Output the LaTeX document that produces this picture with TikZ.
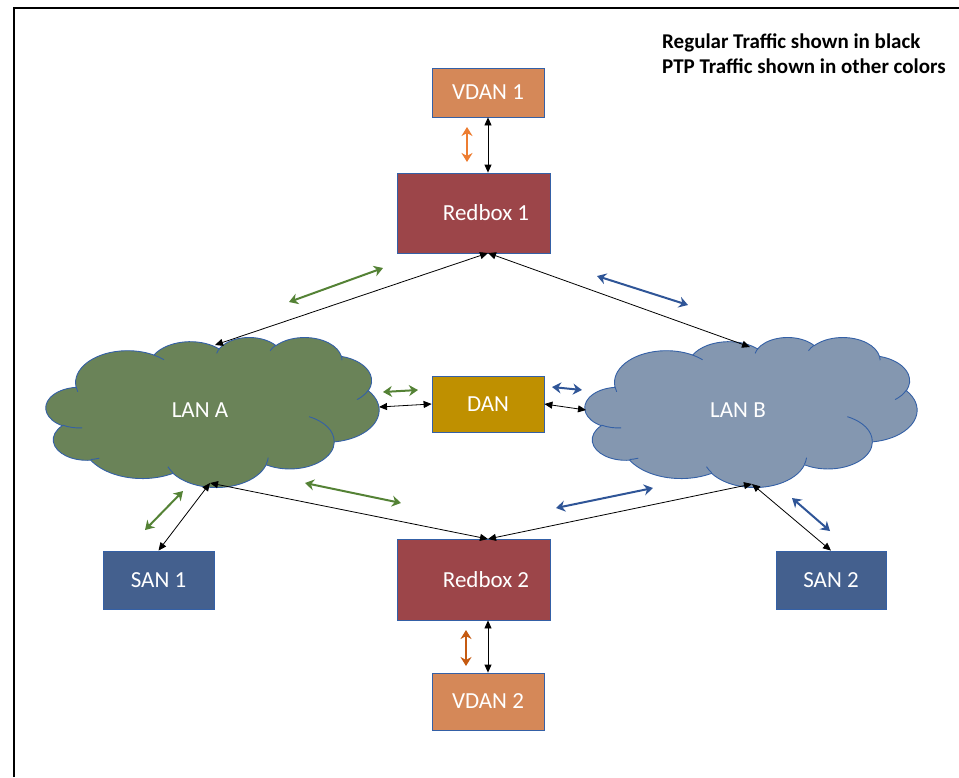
\documentclass[tikz,border=0pt]{standalone}
\usepackage{fontspec}
\setmainfont{Carlito}
\usetikzlibrary{arrows.meta}
\definecolor{vdanfill}{RGB}{213,136,88}
\definecolor{redfill}{RGB}{156,69,73}
\definecolor{danfill}{RGB}{191,144,0}
\definecolor{lanafill}{RGB}{106,131,88}
\definecolor{lanbfill}{RGB}{132,151,176}
\definecolor{sanfill}{RGB}{68,96,142}
\definecolor{edgeblue}{RGB}{52,96,166}
\definecolor{ptpgreen}{RGB}{84,130,53}
\definecolor{ptpblue}{RGB}{47,85,151}
\definecolor{ptporange}{RGB}{237,125,49}
\definecolor{ptpdorange}{RGB}{197,90,17}
% DrawingML-style elliptic arc: wR hR startAngle sweepAngle (visual angles)
\newcommand\ooarc[4]{arc[start angle={pa(#1,#2,#3)}, end angle={pa(#1,#2,#3+#4)}, x radius=#1, y radius=#2]}
\newcommand\cloudouter{(39,143.70)
 \ooarc{67.53}{91.90}{-190.4875}{123.7805}
 \ooarc{53.33}{72.67}{-144.1024}{89.9452}
 \ooarc{43.65}{59.45}{-145.8079}{99.7230}
 \ooarc{48.57}{65.95}{-130.9861}{117.2417}
 \ooarc{53.33}{72.73}{-78.7089}{109.0269}
 \ooarc{67.75}{92.20}{-46.2673}{130.2690}
 \ooarc{57.85}{78.67}{0.6250}{114.0333}
 \ooarc{67.52}{92.15}{22.4516}{115.1726}
 \ooarc{77.20}{105.43}{66.2426}{75.7110}
 \ooarc{43.60}{59.18}{-274.9421}{146.7356}
 \ooarc{43.45}{59.45}{-246.8285}{152.5189} -- cycle}
\newcommand\cloudinner{
 (46.93,261.77) \ooarc{43.45}{59.45}{86.742}{26.4295}
 (69.28,348.99) \ooarc{43.60}{59.18}{73.6105}{11.4475}
 (164.78,390.90) \ooarc{67.52}{92.15}{137.6242}{14.0811}
 (288.27,347.51) \ooarc{67.52}{92.15}{6.4533}{15.9984}
 (341.29,229.54) \ooarc{57.85}{78.67}{-70.2924}{70.9174}
 (417.98,153.54) \ooarc{53.33}{72.73}{30.3180}{27.7515}
 (383.24,54.26) \ooarc{48.57}{65.95}{-13.7443}{14.8589}
 (290.78,39.52) \ooarc{48.57}{65.95}{-149.1815}{18.1954}
 (221.41,47.20) \ooarc{43.65}{59.45}{-163.4943}{17.6864}
 (140.00,51.92) \ooarc{67.53}{91.90}{-66.7070}{12.3194}
 (41.27,157.89) \ooarc{67.53}{91.90}{157.6544}{11.8582}}
% x y w h fill
\newcommand\lancloud[5]{%
 \begin{scope}[shift={(#1,#2)}, xscale=#3/432, yscale=#4/432]
  \fill[#5] \cloudouter;
  \draw[edgeblue, line width=0.9pt] \cloudouter;
  \draw[edgeblue, line width=0.9pt] \cloudinner;
 \end{scope}}
\begin{document}
\begin{tikzpicture}[x=1pt,y=-1pt,
  declare function={pa(\rw,\rh,\ang)=\ang+atan2(sin(atan2(\rw*sin(\ang),\rh*cos(\ang))-\ang),cos(atan2(\rw*sin(\ang),\rh*cos(\ang))-\ang));},
  box/.style={draw=edgeblue, line width=0.8pt, text=white, inner sep=0pt,
    font=\fontsize{23}{27}\selectfont},
  lantext/.style={text=white, inner sep=0pt, font=\fontsize{23}{27}\selectfont},
  blk/.style={line width=0.8pt, {Triangle[width=7pt,length=8pt]}-{Triangle[width=7pt,length=8pt]}},
  ptp/.style={line width=2pt, {Stealth[width=11pt,length=9pt]}-{Stealth[width=11pt,length=9pt]}},
  legend/.style={font=\bfseries\fontsize{21}{25}\selectfont, align=left, inner sep=0pt}
]
\useasboundingbox (0,0) rectangle (959,777);
% frame
\draw[line width=1.6pt] (14,777) -- (14,8) -- (959,8);

% legend
\node[legend, anchor=base west] (legend) at (662,73)
  {Regular Traffic shown in black\\PTP Traffic shown in other colors};

% clouds
\lancloud{46}{337}{333}{150}{lanafill}
\lancloud{585}{337}{332}{150}{lanbfill}
\node[lantext] (lana) at (200,410) {LAN A};
\node[lantext] (lanb) at (738,410) {LAN B};

% nodes
\node[box, fill=vdanfill, minimum width=112pt, minimum height=49pt] (vdan1) at (488,92.5) {VDAN 1};
\node[box, fill=redfill, minimum width=153pt, minimum height=80pt] (redbox1) at (473.5,213) {};
\node[lantext] (redbox1txt) at (486,213) {Redbox 1};
\node[box, fill=danfill, minimum width=112pt, minimum height=56pt] (dan) at (488,404) {DAN};
\node[box, fill=redfill, minimum width=153pt, minimum height=81pt] (redbox2) at (473.5,579.5) {};
\node[lantext] (redbox2txt) at (486,579.5) {Redbox 2};
\node[box, fill=vdanfill, minimum width=112pt, minimum height=57pt] (vdan2) at (488,701.5) {VDAN 2};
\node[box, fill=sanfill, minimum width=111pt, minimum height=58pt] (san1) at (158.5,580) {SAN 1};
\node[box, fill=sanfill, minimum width=110pt, minimum height=58pt] (san2) at (831,580) {SAN 2};

% connection points
\coordinate (r1b) at (488,253);
\coordinate (r2t) at (488,539);
\coordinate (aT) at (215,345);
\coordinate (aR) at (379,407);
\coordinate (aB) at (210,483);
\coordinate (bT) at (750,347);
\coordinate (bL) at (586,410);
\coordinate (bB) at (752,484);

% black connectors
\draw[blk] (vdan1.south) -- (vdan1.south |- redbox1.north);
\draw[blk] (r1b) -- (aT);
\draw[blk] (r1b) -- (bT);
\draw[blk] (aR) -- (dan.west);
\draw[blk] (dan.east) -- (bL);
\draw[blk] (aB) -- (r2t);
\draw[blk] (bB) -- (r2t);
\draw[blk] (aB) -- (san1.north);
\draw[blk] (bB) -- (san2.north);
\draw[blk] (vdan2.north |- redbox2.south) -- (vdan2.north);

% PTP arrows
\coordinate (g1a) at (289,302); \coordinate (g1b) at (383,268);
\coordinate (u1a) at (597,276); \coordinate (u1b) at (688,305);
\coordinate (g2a) at (383,392); \coordinate (g2b) at (418,390);
\coordinate (u2a) at (552,387); \coordinate (u2b) at (582,390);
\coordinate (g3a) at (305,483); \coordinate (g3b) at (401,503);
\coordinate (u3a) at (556,508); \coordinate (u3b) at (653,488);
\coordinate (g4a) at (145,530); \coordinate (g4b) at (183,491);
\coordinate (u4a) at (792,498); \coordinate (u4b) at (830,531);
\coordinate (o1a) at (467,127); \coordinate (o1b) at (467,162);
\coordinate (o2a) at (466,630); \coordinate (o2b) at (466,666);
\draw[ptp, ptpgreen] (g1a) -- (g1b);
\draw[ptp, ptpblue] (u1a) -- (u1b);
\draw[ptp, ptpgreen] (g2a) -- (g2b);
\draw[ptp, ptpblue] (u2a) -- (u2b);
\draw[ptp, ptpgreen] (g3a) -- (g3b);
\draw[ptp, ptpblue] (u3a) -- (u3b);
\draw[ptp, ptpgreen] (g4a) -- (g4b);
\draw[ptp, ptpblue] (u4a) -- (u4b);
\draw[ptp, ptporange] (o1a) -- (o1b);
\draw[ptp, ptpdorange] (o2a) -- (o2b);
\end{tikzpicture}
\end{document}
